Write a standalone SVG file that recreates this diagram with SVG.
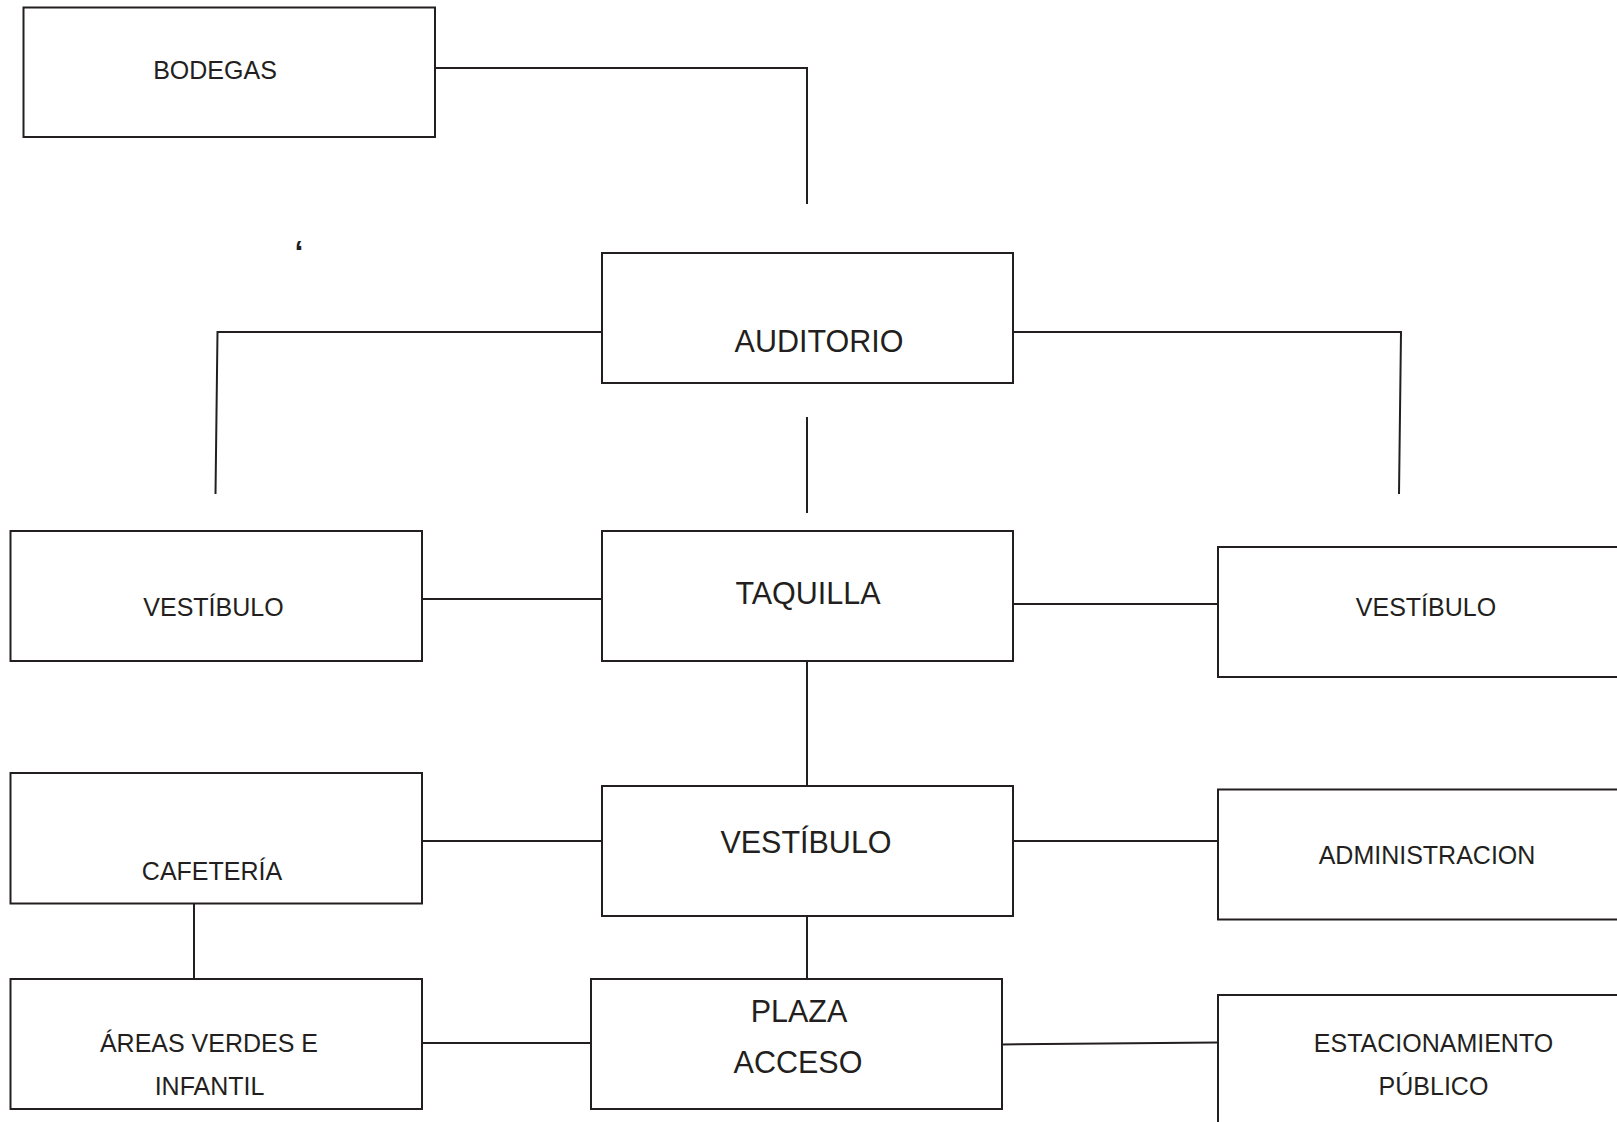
<svg xmlns="http://www.w3.org/2000/svg" width="1617" height="1122" viewBox="0 0 1617 1122">
<style>
.box{fill:#fff;stroke:#231f20;stroke-width:2}
.lbl{font-family:"Liberation Sans",Arial,sans-serif;font-size:25px;fill:#231f20;text-anchor:middle}
.big{font-size:30.5px}
.con{fill:none;stroke:#231f20;stroke-width:2}
</style>
<rect width="1617" height="1122" fill="#fff"/>
<g id="connectors">
<polyline class="con" points="435,68 807,68 807,204"/>
<polyline class="con" points="602,332 217.5,332 215.5,494"/>
<polyline class="con" points="1013,332 1401,332 1399,494"/>
<line class="con" x1="807" y1="417" x2="807" y2="513"/>
<line class="con" x1="422" y1="599" x2="602" y2="599"/>
<line class="con" x1="1013" y1="604" x2="1218" y2="604"/>
<line class="con" x1="807" y1="661" x2="807" y2="786"/>
<line class="con" x1="422" y1="841" x2="602" y2="841"/>
<line class="con" x1="1013" y1="841" x2="1218" y2="841"/>
<line class="con" x1="194" y1="904" x2="194" y2="979"/>
<line class="con" x1="807" y1="916" x2="807" y2="979"/>
<line class="con" x1="422" y1="1043" x2="591" y2="1043" stroke-width="3"/>
<line class="con" x1="1002" y1="1044.5" x2="1218" y2="1042.5"/>
</g>
<g id="bodegas"><rect class="box" x="23.5" y="7.5" width="411.5" height="129.5"/><text class="lbl" x="215" y="79">BODEGAS</text></g>
<g id="mark"><text class="lbl" x="299" y="263" style="font-size:32px;font-weight:bold">‘</text></g>
<g id="auditorio"><rect class="box" x="602" y="253" width="411" height="130"/><text class="lbl big" x="819" y="352">AUDITORIO</text></g>
<g id="vestibulo-izq"><rect class="box" x="10.5" y="531" width="411.5" height="130"/><text class="lbl" x="213.5" y="616">VESTÍBULO</text></g>
<g id="taquilla"><rect class="box" x="602" y="531" width="411" height="130"/><text class="lbl big" x="808" y="604">TAQUILLA</text></g>
<g id="vestibulo-der"><rect class="box" x="1218" y="547" width="420" height="130"/><text class="lbl" x="1426" y="616">VESTÍBULO</text></g>
<g id="cafeteria"><rect class="box" x="10.5" y="773" width="411.5" height="130.5"/><text class="lbl" x="212" y="880">CAFETERÍA</text></g>
<g id="vestibulo-centro"><rect class="box" x="602" y="786" width="411" height="130"/><text class="lbl big" x="806" y="853">VESTÍBULO</text></g>
<g id="administracion"><rect class="box" x="1218" y="789.5" width="420" height="130"/><text class="lbl" x="1427" y="864">ADMINISTRACION</text></g>
<g id="areas-verdes"><rect class="box" x="10.5" y="979" width="411.5" height="130"/><text class="lbl" x="209" y="1052">ÁREAS VERDES E</text><text class="lbl" x="209.5" y="1095">INFANTIL</text></g>
<g id="plaza-acceso"><rect class="box" x="591" y="979" width="411" height="130"/><text class="lbl big" x="799" y="1022">PLAZA</text><text class="lbl big" x="798" y="1073">ACCESO</text></g>
<g id="estacionamiento"><rect class="box" x="1218" y="995" width="420" height="150"/><text class="lbl" x="1433.5" y="1052">ESTACIONAMIENTO</text><text class="lbl" x="1433.5" y="1095">PÚBLICO</text></g>
</svg>
